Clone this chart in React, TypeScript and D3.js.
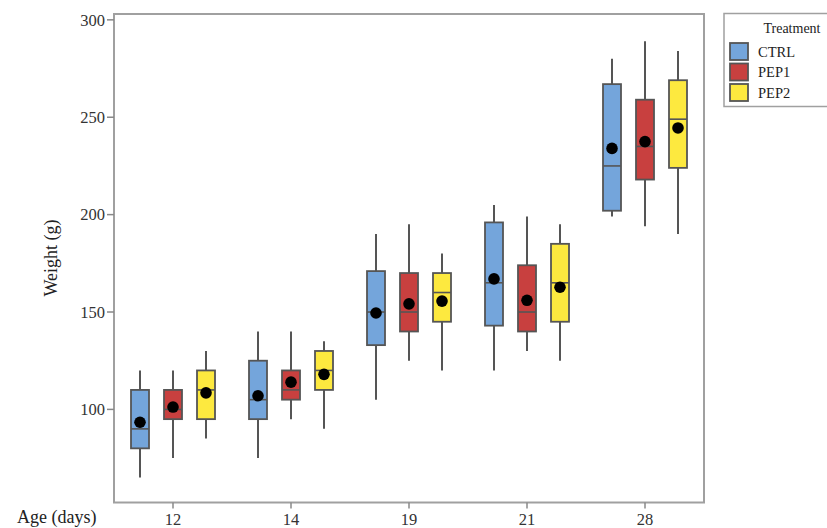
import React from 'react';
import * as d3 from 'd3';

// Age groups and treatments
const ages = ['12', '14', '19', '21', '28'];
const treatments = ['CTRL', 'PEP1', 'PEP2'];
const colors = ['#74a5db', '#c8403f', '#fde93f'];

// each row: [whisker low, q1, median, q3, whisker high, mean]
const ctrlStats = [
  [65, 80, 90, 110, 120, 93.4],
  [75, 95, 105, 125, 140, 107],
  [105, 133, 150, 171, 190, 149.5],
  [120, 143, 165, 196, 205, 167],
  [199, 202, 225, 267, 280, 234],
];
const pep1Stats = [
  [75, 95, 100, 110, 120, 101.2],
  [95, 105, 110, 120, 140, 114],
  [125, 140, 150, 170, 195, 154.2],
  [130, 140, 150, 174, 199, 156],
  [194, 218, 235, 259, 289, 237.5],
];
const pep2Stats = [
  [85, 95, 110, 120, 130, 108.5],
  [90, 110, 120, 130, 135, 118],
  [120, 145, 160, 170, 180, 155.6],
  [125, 145, 165, 185, 195, 162.7],
  [190, 224, 249, 269, 284, 244.5],
];
const yTicks = [100, 150, 200, 250, 300];

const allStats = [ctrlStats, pep1Stats, pep2Stats];

const width = 827;
const height = 528;
const plot = { left: 114, right: 704, top: 14, bottom: 502.5 };
const font = '"Liberation Serif", "Times New Roman", serif';
const stroke = '#555';

const App: React.FC = () => {
  const x = d3.scaleBand<string>().domain(ages).range([plot.left, plot.right]).padding(0);
  const xInner = d3.scalePoint<string>().domain(treatments).range([-33, 33]);
  const y = d3.scaleLinear().domain([52.2, 303]).range([plot.bottom, plot.top]);
  const boxW = 18;

  return (
    <svg width={width} height={height} style={{ position: 'absolute', left: 0, top: 0, background: '#fff' }}>
      {/* plot frame */}
      <rect
        x={plot.left}
        y={plot.top}
        width={plot.right - plot.left}
        height={plot.bottom - plot.top}
        fill="none"
        stroke="#a0a0a0"
        strokeWidth={2}
      />

      {/* y axis */}
      <g style={{ font: `16.5px ${font}` }} fill="#333">
        {yTicks.map(t => (
          <g key={t} transform={`translate(0,${y(t)})`}>
            <line x1={plot.left - 7} x2={plot.left} stroke="#888" strokeWidth={1.5} />
            <text x={plot.left - 9} dy="0.35em" textAnchor="end">{t}</text>
          </g>
        ))}
      </g>

      {/* x axis */}
      <g style={{ font: `16.5px ${font}` }} fill="#333">
        {ages.map(a => {
          const cx = (x(a) ?? 0) + x.bandwidth() / 2;
          return (
            <g key={a} transform={`translate(${cx},0)`}>
              <line y1={plot.bottom} y2={plot.bottom + 6} stroke="#888" strokeWidth={1.5} />
              <text y={525} textAnchor="middle">{a}</text>
            </g>
          );
        })}
      </g>

      <text
        transform="translate(57,258) rotate(-90)"
        textAnchor="middle"
        style={{ font: `18px ${font}` }}
        fill="#222"
      >
        Weight (g)
      </text>
      <text x={17} y={523} style={{ font: `18px ${font}` }} fill="#222">Age (days)</text>

      {/* boxes */}
      {allStats.map((series, ti) =>
        series.map((s, ai) => {
          const cx = (x(ages[ai]) ?? 0) + x.bandwidth() / 2 + (xInner(treatments[ti]) ?? 0);
          const [lo, q1, med, q3, hi, mean] = s;
          return (
            <g key={`${ti}-${ai}`}>
              <line x1={cx} x2={cx} y1={y(hi)} y2={y(lo)} stroke={stroke} strokeWidth={2} />
              <rect
                x={cx - boxW / 2}
                y={y(q3)}
                width={boxW}
                height={y(q1) - y(q3)}
                fill={colors[ti]}
                stroke={stroke}
                strokeWidth={1.8}
              />
              <line x1={cx - boxW / 2} x2={cx + boxW / 2} y1={y(med)} y2={y(med)} stroke={stroke} strokeWidth={1.6} />
              <circle cx={cx} cy={y(mean)} r={5.8} fill="#000" />
            </g>
          );
        })
      )}

      {/* legend */}
      <g>
        <rect x={724} y={13.5} width={130} height={93} fill="#fff" stroke="#a0a0a0" strokeWidth={1.5} />
        <text x={792} y={33} textAnchor="middle" style={{ font: `14px ${font}` }} fill="#222">Treatment</text>
        {treatments.map((t, i) => (
          <g key={t} transform={`translate(730,${43 + i * 20.5})`}>
            <rect width={18} height={17} fill={colors[i]} stroke={stroke} strokeWidth={1.8} />
            <text x={28} y={13.5} style={{ font: `14.5px ${font}` }} fill="#222">{t}</text>
          </g>
        ))}
      </g>
    </svg>
  );
};

export default App;
